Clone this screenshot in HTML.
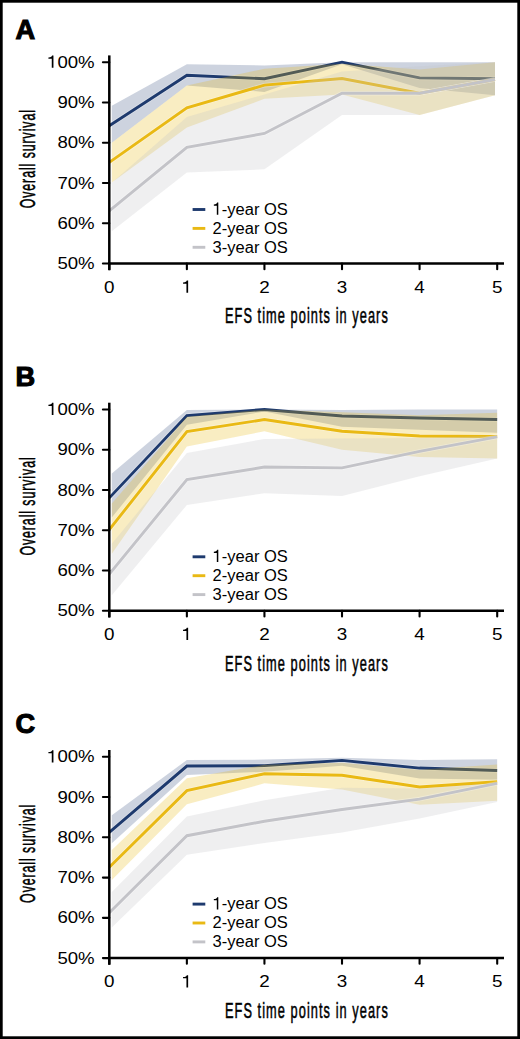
<!DOCTYPE html>
<html><head><meta charset="utf-8"><style>
html,body{margin:0;padding:0;background:#fff;width:520px;height:1039px;overflow:hidden}
svg{display:block}
text{font-family:"Liberation Sans",sans-serif;fill:#000}
.pl{font-weight:bold;font-size:27.2px;stroke:#000;stroke-width:1.1px;stroke-linejoin:miter}
.yl{font-size:17.3px;text-anchor:end}
.xl{font-size:17.3px;text-anchor:middle}
.lg{font-size:17.3px}
.ti{font-size:22px;text-anchor:middle;stroke:#000;stroke-width:0.55px}
.ln{fill:none;stroke-width:2.9;stroke-linejoin:miter;stroke-miterlimit:10}
.cs{fill:none;stroke:#fff;stroke-opacity:0.3;stroke-width:4.5;stroke-linejoin:miter}
.ax{stroke:#000;stroke-width:2.5;fill:none}
.tk{stroke:#000;stroke-width:2.1;fill:none}
</style></head><body>
<svg width="520" height="1039" viewBox="0 0 520 1039">
<rect x="0" y="0" width="520" height="1039" fill="#fff"/>
<text x="15.6" y="38.5" class="pl">A</text>
<polygon points="111.8,105.75 186.87,64.21 264.44,65.42 342.01,62.2 419.58,62.2 495,62.2 495,95.21 419.58,87.97 342.01,64.21 264.44,91.99 186.87,85.55 111.8,142.67" fill="#1e3a6e" fill-opacity="0.225"/>
<polyline points="109.3,125.69 186.87,75.28 264.44,78.71 342.01,62.2 419.58,77.9 495,78.71" class="cs"/>
<polyline points="109.3,125.69 186.87,75.28 264.44,78.71 342.01,62.2 419.58,77.9 495,78.71" class="ln" stroke="#1e3a6e"/>
<polygon points="111.8,142.67 186.87,85.55 264.44,68.64 342.01,63.81 419.58,69.45 495,62.2 495,95.21 419.58,114.94 342.01,94.41 264.44,98.84 186.87,127.42 111.8,182.59" fill="#e9b914" fill-opacity="0.26"/>
<polyline points="109.3,162.41 186.87,107.9 264.44,85.15 342.01,78.51 419.58,93.2 495,79.51" class="cs"/>
<polyline points="109.3,162.41 186.87,107.9 264.44,85.15 342.01,78.51 419.58,93.2 495,79.51" class="ln" stroke="#e9b914"/>
<polygon points="111.8,182.8 186.87,116.95 264.44,94.41 342.01,71.46 419.58,66.23 495,62.2 495,95.21 419.58,114.94 342.01,114.94 264.44,169.29 186.87,172.51 111.8,231.35" fill="#c3c3c8" fill-opacity="0.27"/>
<polyline points="109.3,210.8 186.87,147.35 264.44,133.46 342.01,93.2 419.58,93.2 495,79.51" class="cs"/>
<polyline points="109.3,210.8 186.87,147.35 264.44,133.46 342.01,93.2 419.58,93.2 495,79.51" class="ln" stroke="#c3c3c8"/>
<line x1="109.3" y1="55.4" x2="109.3" y2="270.2" class="ax"/>
<line x1="108.05" y1="263.5" x2="504" y2="263.5" class="ax"/>
<line x1="102.9" y1="263.5" x2="109.3" y2="263.5" class="tk" stroke-linecap="round"/>
<text x="0" y="0" class="yl" transform="translate(94.6,269.1) scale(1.075,1)">50%</text>
<line x1="102.9" y1="223.24" x2="109.3" y2="223.24" class="tk" stroke-linecap="round"/>
<text x="0" y="0" class="yl" transform="translate(94.6,228.84) scale(1.075,1)">60%</text>
<line x1="102.9" y1="182.98" x2="109.3" y2="182.98" class="tk" stroke-linecap="round"/>
<text x="0" y="0" class="yl" transform="translate(94.6,188.58) scale(1.075,1)">70%</text>
<line x1="102.9" y1="142.72" x2="109.3" y2="142.72" class="tk" stroke-linecap="round"/>
<text x="0" y="0" class="yl" transform="translate(94.6,148.32) scale(1.075,1)">80%</text>
<line x1="102.9" y1="102.46" x2="109.3" y2="102.46" class="tk" stroke-linecap="round"/>
<text x="0" y="0" class="yl" transform="translate(94.6,108.06) scale(1.075,1)">90%</text>
<line x1="102.9" y1="62.2" x2="109.3" y2="62.2" class="tk" stroke-linecap="round"/>
<text x="0" y="0" class="yl" transform="translate(94.6,67.8) scale(1.075,1)">00%</text>
<path d="M0.255 0L0.345 0L0.345 -0.709L0.272 -0.709C0.262 -0.650 0.215 -0.610 0.075 -0.600L0.075 -0.530L0.255 -0.530Z" transform="translate(47.03,67.80) scale(18.598,17.300)"/>
<line x1="109.3" y1="263.5" x2="109.3" y2="269.2" class="tk" stroke-linecap="round"/>
<text x="0" y="0" class="xl" transform="translate(109.3,292.8) scale(1.09,1)">0</text>
<line x1="186.87" y1="263.5" x2="186.87" y2="269.2" class="tk" stroke-linecap="round"/>
<path d="M0.255 0L0.345 0L0.345 -0.709L0.272 -0.709C0.262 -0.650 0.215 -0.610 0.075 -0.600L0.075 -0.530L0.255 -0.530Z" transform="translate(181.63,292.80) scale(18.857,17.300)"/>
<line x1="264.44" y1="263.5" x2="264.44" y2="269.2" class="tk" stroke-linecap="round"/>
<text x="0" y="0" class="xl" transform="translate(264.44,292.8) scale(1.09,1)">2</text>
<line x1="342.01" y1="263.5" x2="342.01" y2="269.2" class="tk" stroke-linecap="round"/>
<text x="0" y="0" class="xl" transform="translate(342.01,292.8) scale(1.09,1)">3</text>
<line x1="419.58" y1="263.5" x2="419.58" y2="269.2" class="tk" stroke-linecap="round"/>
<text x="0" y="0" class="xl" transform="translate(419.58,292.8) scale(1.09,1)">4</text>
<line x1="497.2" y1="263.5" x2="497.2" y2="269.2" class="tk" stroke-linecap="round"/>
<text x="0" y="0" class="xl" transform="translate(497.2,292.8) scale(1.09,1)">5</text>
<text x="0" y="0" class="ti" transform="translate(306.9,323.2) scale(0.58,1)" letter-spacing="1.85">EFS time points in years</text>
<text x="0" y="0" class="ti" transform="translate(34.6,158.7) rotate(-90) scale(0.56,1)" letter-spacing="1.68">Overall survival</text>
<line x1="192.6" y1="209.5" x2="205.3" y2="209.5" stroke="#1e3a6e" stroke-width="2.9"/>
<path d="M0.255 0L0.345 0L0.345 -0.709L0.272 -0.709C0.262 -0.650 0.215 -0.610 0.075 -0.600L0.075 -0.530L0.255 -0.530Z" transform="translate(212.60,214.80) scale(16.521,17.300)"/>
<text x="0" y="0" class="lg" transform="translate(221.79,214.8) scale(0.955,1)">-year OS</text>
<line x1="192.6" y1="228.4" x2="205.3" y2="228.4" stroke="#e9b914" stroke-width="2.9"/>
<text x="0" y="0" class="lg" transform="translate(212.6,233.7) scale(0.955,1)">2-year OS</text>
<line x1="192.6" y1="247.3" x2="205.3" y2="247.3" stroke="#c3c3c8" stroke-width="2.9"/>
<text x="0" y="0" class="lg" transform="translate(212.6,252.6) scale(0.955,1)">3-year OS</text>
<text x="15.6" y="385.8" class="pl">B</text>
<polygon points="111.8,473.41 186.87,409.9 264.44,409.5 342.01,409.9 419.58,409.5 497.15,409.5 497.15,432.85 419.58,429.63 342.01,426.81 264.44,411.51 186.87,424.8 111.8,517.41" fill="#1e3a6e" fill-opacity="0.225"/>
<polyline points="109.3,497.87 186.87,415.54 264.44,409.5 342.01,415.94 419.58,417.95 497.15,419.56" class="cs"/>
<polyline points="109.3,497.87 186.87,415.54 264.44,409.5 342.01,415.94 419.58,417.95 497.15,419.56" class="ln" stroke="#1e3a6e"/>
<polygon points="111.8,503.59 186.87,416.75 264.44,409.5 342.01,412.32 419.58,415.14 497.15,412.72 497.15,458.62 419.58,457.01 342.01,449.76 264.44,431.24 186.87,446.54 111.8,553.65" fill="#e9b914" fill-opacity="0.26"/>
<polyline points="109.3,529.64 186.87,431.64 264.44,419.56 342.01,431.24 419.58,436.07 497.15,436.47" class="cs"/>
<polyline points="109.3,529.64 186.87,431.64 264.44,419.56 342.01,431.24 419.58,436.07 497.15,436.47" class="ln" stroke="#e9b914"/>
<polygon points="111.8,543.65 186.87,452.98 264.44,438.89 342.01,438.49 419.58,438.08 497.15,435.67 497.15,458.62 419.58,476.33 342.01,496.06 264.44,493.24 186.87,504.92 111.8,595.35" fill="#c3c3c8" fill-opacity="0.27"/>
<polyline points="109.3,574.12 186.87,479.55 264.44,467.07 342.01,467.88 419.58,451.37 497.15,436.88" class="cs"/>
<polyline points="109.3,574.12 186.87,479.55 264.44,467.07 342.01,467.88 419.58,451.37 497.15,436.88" class="ln" stroke="#c3c3c8"/>
<line x1="109.3" y1="402.7" x2="109.3" y2="617.5" class="ax"/>
<line x1="108.05" y1="610.8" x2="504" y2="610.8" class="ax"/>
<line x1="102.9" y1="610.8" x2="109.3" y2="610.8" class="tk" stroke-linecap="round"/>
<text x="0" y="0" class="yl" transform="translate(94.6,616.4) scale(1.075,1)">50%</text>
<line x1="102.9" y1="570.54" x2="109.3" y2="570.54" class="tk" stroke-linecap="round"/>
<text x="0" y="0" class="yl" transform="translate(94.6,576.14) scale(1.075,1)">60%</text>
<line x1="102.9" y1="530.28" x2="109.3" y2="530.28" class="tk" stroke-linecap="round"/>
<text x="0" y="0" class="yl" transform="translate(94.6,535.88) scale(1.075,1)">70%</text>
<line x1="102.9" y1="490.02" x2="109.3" y2="490.02" class="tk" stroke-linecap="round"/>
<text x="0" y="0" class="yl" transform="translate(94.6,495.62) scale(1.075,1)">80%</text>
<line x1="102.9" y1="449.76" x2="109.3" y2="449.76" class="tk" stroke-linecap="round"/>
<text x="0" y="0" class="yl" transform="translate(94.6,455.36) scale(1.075,1)">90%</text>
<line x1="102.9" y1="409.5" x2="109.3" y2="409.5" class="tk" stroke-linecap="round"/>
<text x="0" y="0" class="yl" transform="translate(94.6,415.1) scale(1.075,1)">00%</text>
<path d="M0.255 0L0.345 0L0.345 -0.709L0.272 -0.709C0.262 -0.650 0.215 -0.610 0.075 -0.600L0.075 -0.530L0.255 -0.530Z" transform="translate(47.03,415.10) scale(18.598,17.300)"/>
<line x1="109.3" y1="610.8" x2="109.3" y2="616.5" class="tk" stroke-linecap="round"/>
<text x="0" y="0" class="xl" transform="translate(109.3,640.1) scale(1.09,1)">0</text>
<line x1="186.87" y1="610.8" x2="186.87" y2="616.5" class="tk" stroke-linecap="round"/>
<path d="M0.255 0L0.345 0L0.345 -0.709L0.272 -0.709C0.262 -0.650 0.215 -0.610 0.075 -0.600L0.075 -0.530L0.255 -0.530Z" transform="translate(181.63,640.10) scale(18.857,17.300)"/>
<line x1="264.44" y1="610.8" x2="264.44" y2="616.5" class="tk" stroke-linecap="round"/>
<text x="0" y="0" class="xl" transform="translate(264.44,640.1) scale(1.09,1)">2</text>
<line x1="342.01" y1="610.8" x2="342.01" y2="616.5" class="tk" stroke-linecap="round"/>
<text x="0" y="0" class="xl" transform="translate(342.01,640.1) scale(1.09,1)">3</text>
<line x1="419.58" y1="610.8" x2="419.58" y2="616.5" class="tk" stroke-linecap="round"/>
<text x="0" y="0" class="xl" transform="translate(419.58,640.1) scale(1.09,1)">4</text>
<line x1="497.2" y1="610.8" x2="497.2" y2="616.5" class="tk" stroke-linecap="round"/>
<text x="0" y="0" class="xl" transform="translate(497.2,640.1) scale(1.09,1)">5</text>
<text x="0" y="0" class="ti" transform="translate(306.9,670.5) scale(0.58,1)" letter-spacing="1.85">EFS time points in years</text>
<text x="0" y="0" class="ti" transform="translate(34.6,506) rotate(-90) scale(0.56,1)" letter-spacing="1.68">Overall survival</text>
<line x1="192.6" y1="556.8" x2="205.3" y2="556.8" stroke="#1e3a6e" stroke-width="2.9"/>
<path d="M0.255 0L0.345 0L0.345 -0.709L0.272 -0.709C0.262 -0.650 0.215 -0.610 0.075 -0.600L0.075 -0.530L0.255 -0.530Z" transform="translate(212.60,562.10) scale(16.521,17.300)"/>
<text x="0" y="0" class="lg" transform="translate(221.79,562.1) scale(0.955,1)">-year OS</text>
<line x1="192.6" y1="575.7" x2="205.3" y2="575.7" stroke="#e9b914" stroke-width="2.9"/>
<text x="0" y="0" class="lg" transform="translate(212.6,581) scale(0.955,1)">2-year OS</text>
<line x1="192.6" y1="594.6" x2="205.3" y2="594.6" stroke="#c3c3c8" stroke-width="2.9"/>
<text x="0" y="0" class="lg" transform="translate(212.6,599.9) scale(0.955,1)">3-year OS</text>
<text x="15.6" y="733.1" class="pl">C</text>
<polygon points="111.8,815.35 186.87,760.02 264.44,759.62 342.01,757.81 419.58,760.02 497.15,759.22 497.15,779.75 419.58,778.54 342.01,765.66 264.44,771.7 186.87,774.92 111.8,843.26" fill="#1e3a6e" fill-opacity="0.225"/>
<polyline points="109.3,832.37 186.87,766.06 264.44,765.66 342.01,760.42 419.58,768.07 497.15,770.49" class="cs"/>
<polyline points="109.3,832.37 186.87,766.06 264.44,765.66 342.01,760.42 419.58,768.07 497.15,770.49" class="ln" stroke="#1e3a6e"/>
<polygon points="111.8,849.95 186.87,778.14 264.44,764.85 342.01,762.84 419.58,769.68 497.15,764.45 497.15,800.68 419.58,804.71 342.01,789.41 264.44,783.37 186.87,804.31 111.8,880.09" fill="#e9b914" fill-opacity="0.26"/>
<polyline points="109.3,867.23 186.87,790.62 264.44,773.71 342.01,775.32 419.58,787 497.15,781.76" class="cs"/>
<polyline points="109.3,867.23 186.87,790.62 264.44,773.71 342.01,775.32 419.58,787 497.15,781.76" class="ln" stroke="#e9b914"/>
<polygon points="111.8,892.09 186.87,816.38 264.44,800.28 342.01,787.8 419.58,788.61 497.15,782.97 497.15,801.89 419.58,818.4 342.01,832.49 264.44,842.96 186.87,854.63 111.8,927.49" fill="#c3c3c8" fill-opacity="0.27"/>
<polyline points="109.3,912.69 186.87,835.71 264.44,821.22 342.01,809.54 419.58,799.07 497.15,783.37" class="cs"/>
<polyline points="109.3,912.69 186.87,835.71 264.44,821.22 342.01,809.54 419.58,799.07 497.15,783.37" class="ln" stroke="#c3c3c8"/>
<line x1="109.3" y1="750" x2="109.3" y2="964.8" class="ax"/>
<line x1="108.05" y1="958.1" x2="504" y2="958.1" class="ax"/>
<line x1="102.9" y1="958.1" x2="109.3" y2="958.1" class="tk" stroke-linecap="round"/>
<text x="0" y="0" class="yl" transform="translate(94.6,963.7) scale(1.075,1)">50%</text>
<line x1="102.9" y1="917.84" x2="109.3" y2="917.84" class="tk" stroke-linecap="round"/>
<text x="0" y="0" class="yl" transform="translate(94.6,923.44) scale(1.075,1)">60%</text>
<line x1="102.9" y1="877.58" x2="109.3" y2="877.58" class="tk" stroke-linecap="round"/>
<text x="0" y="0" class="yl" transform="translate(94.6,883.18) scale(1.075,1)">70%</text>
<line x1="102.9" y1="837.32" x2="109.3" y2="837.32" class="tk" stroke-linecap="round"/>
<text x="0" y="0" class="yl" transform="translate(94.6,842.92) scale(1.075,1)">80%</text>
<line x1="102.9" y1="797.06" x2="109.3" y2="797.06" class="tk" stroke-linecap="round"/>
<text x="0" y="0" class="yl" transform="translate(94.6,802.66) scale(1.075,1)">90%</text>
<line x1="102.9" y1="756.8" x2="109.3" y2="756.8" class="tk" stroke-linecap="round"/>
<text x="0" y="0" class="yl" transform="translate(94.6,762.4) scale(1.075,1)">00%</text>
<path d="M0.255 0L0.345 0L0.345 -0.709L0.272 -0.709C0.262 -0.650 0.215 -0.610 0.075 -0.600L0.075 -0.530L0.255 -0.530Z" transform="translate(47.03,762.40) scale(18.598,17.300)"/>
<line x1="109.3" y1="958.1" x2="109.3" y2="963.8" class="tk" stroke-linecap="round"/>
<text x="0" y="0" class="xl" transform="translate(109.3,987.4) scale(1.09,1)">0</text>
<line x1="186.87" y1="958.1" x2="186.87" y2="963.8" class="tk" stroke-linecap="round"/>
<path d="M0.255 0L0.345 0L0.345 -0.709L0.272 -0.709C0.262 -0.650 0.215 -0.610 0.075 -0.600L0.075 -0.530L0.255 -0.530Z" transform="translate(181.63,987.40) scale(18.857,17.300)"/>
<line x1="264.44" y1="958.1" x2="264.44" y2="963.8" class="tk" stroke-linecap="round"/>
<text x="0" y="0" class="xl" transform="translate(264.44,987.4) scale(1.09,1)">2</text>
<line x1="342.01" y1="958.1" x2="342.01" y2="963.8" class="tk" stroke-linecap="round"/>
<text x="0" y="0" class="xl" transform="translate(342.01,987.4) scale(1.09,1)">3</text>
<line x1="419.58" y1="958.1" x2="419.58" y2="963.8" class="tk" stroke-linecap="round"/>
<text x="0" y="0" class="xl" transform="translate(419.58,987.4) scale(1.09,1)">4</text>
<line x1="497.2" y1="958.1" x2="497.2" y2="963.8" class="tk" stroke-linecap="round"/>
<text x="0" y="0" class="xl" transform="translate(497.2,987.4) scale(1.09,1)">5</text>
<text x="0" y="0" class="ti" transform="translate(306.9,1017.8) scale(0.58,1)" letter-spacing="1.85">EFS time points in years</text>
<text x="0" y="0" class="ti" transform="translate(34.6,853.3) rotate(-90) scale(0.56,1)" letter-spacing="1.68">Overall survival</text>
<line x1="192.6" y1="904.1" x2="205.3" y2="904.1" stroke="#1e3a6e" stroke-width="2.9"/>
<path d="M0.255 0L0.345 0L0.345 -0.709L0.272 -0.709C0.262 -0.650 0.215 -0.610 0.075 -0.600L0.075 -0.530L0.255 -0.530Z" transform="translate(212.60,909.40) scale(16.521,17.300)"/>
<text x="0" y="0" class="lg" transform="translate(221.79,909.4) scale(0.955,1)">-year OS</text>
<line x1="192.6" y1="923" x2="205.3" y2="923" stroke="#e9b914" stroke-width="2.9"/>
<text x="0" y="0" class="lg" transform="translate(212.6,928.3) scale(0.955,1)">2-year OS</text>
<line x1="192.6" y1="941.9" x2="205.3" y2="941.9" stroke="#c3c3c8" stroke-width="2.9"/>
<text x="0" y="0" class="lg" transform="translate(212.6,947.2) scale(0.955,1)">3-year OS</text>
<rect x="1.3" y="1.3" width="517.4" height="1036.4" fill="none" stroke="#000" stroke-width="2.8"/>
</svg>
</body></html>
